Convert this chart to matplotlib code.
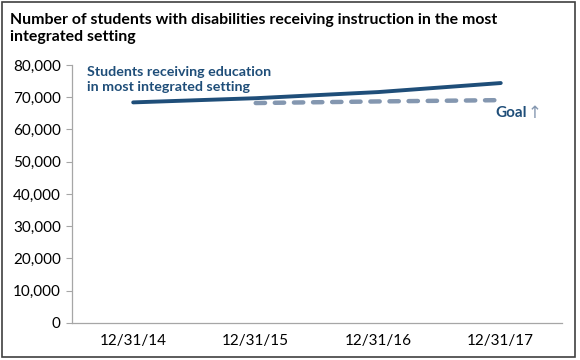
import numpy as np
import matplotlib.pyplot as plt
from matplotlib.patches import Rectangle
from matplotlib.ticker import FuncFormatter

plt.rcParams['font.family'] = ['Lato', 'DejaVu Sans']

# Data
dates = ["12/31/14", "12/31/15", "12/31/16", "12/31/17"]
students = [68400, 69700, 71600, 74400]
goal = [np.nan, 68200, 68700, 69100]

dark_blue = "#1F4E79"
goal_blue = "#8497B0"

fig = plt.figure(figsize=(5.8, 3.6), dpi=100)
ax = fig.add_axes([0.124, 0.1028, 0.845, 0.7167])

x = np.arange(len(dates))
ax.plot(x, students, color=dark_blue, linewidth=2.8, solid_capstyle="round")
ax.plot(x, goal, color=goal_blue, linewidth=3.2, dashes=(2.1, 2.2),
        dash_capstyle="round")

ax.set_xlim(-0.5, 3.5)
ax.set_ylim(0, 80000)
ax.set_yticks(np.arange(0, 80001, 10000))
ax.yaxis.set_major_formatter(FuncFormatter(lambda v, p: f"{int(v):,}"))
ax.set_xticks(x)
ax.set_xticklabels(dates)
ax.tick_params(axis="x", length=0, pad=8, labelsize=11)
ax.tick_params(axis="y", length=4, color="#A6A6A6", labelsize=11, pad=4)

for s in ["top", "right"]:
    ax.spines[s].set_visible(False)
for s in ["left", "bottom"]:
    ax.spines[s].set_color("#A6A6A6")
    ax.spines[s].set_linewidth(0.9)

ax.text(-0.38, 79800, "Students receiving education\nin most integrated setting",
        color=dark_blue, fontsize=10.3, fontweight="bold", va="top", ha="left",
        linespacing=1.3)
ax.text(2.96, 65000, "Goal", color=dark_blue, fontsize=11, fontweight="bold",
        va="center", ha="left")
ax.text(3.22, 65000, "\u2191", color=goal_blue, fontsize=12, va="center", ha="left",
        family="DejaVu Sans")

fig.text(0.017, 0.965, "Number of students with disabilities receiving instruction in the most\nintegrated setting",
         fontsize=11.4, fontweight="bold", va="top", ha="left", linespacing=1.3)

fig.patches.append(Rectangle((0.004, 0.008), 0.988, 0.986, transform=fig.transFigure,
                             fill=False, edgecolor="#404040", linewidth=1.2))

fig.savefig("out.png", dpi=100)
